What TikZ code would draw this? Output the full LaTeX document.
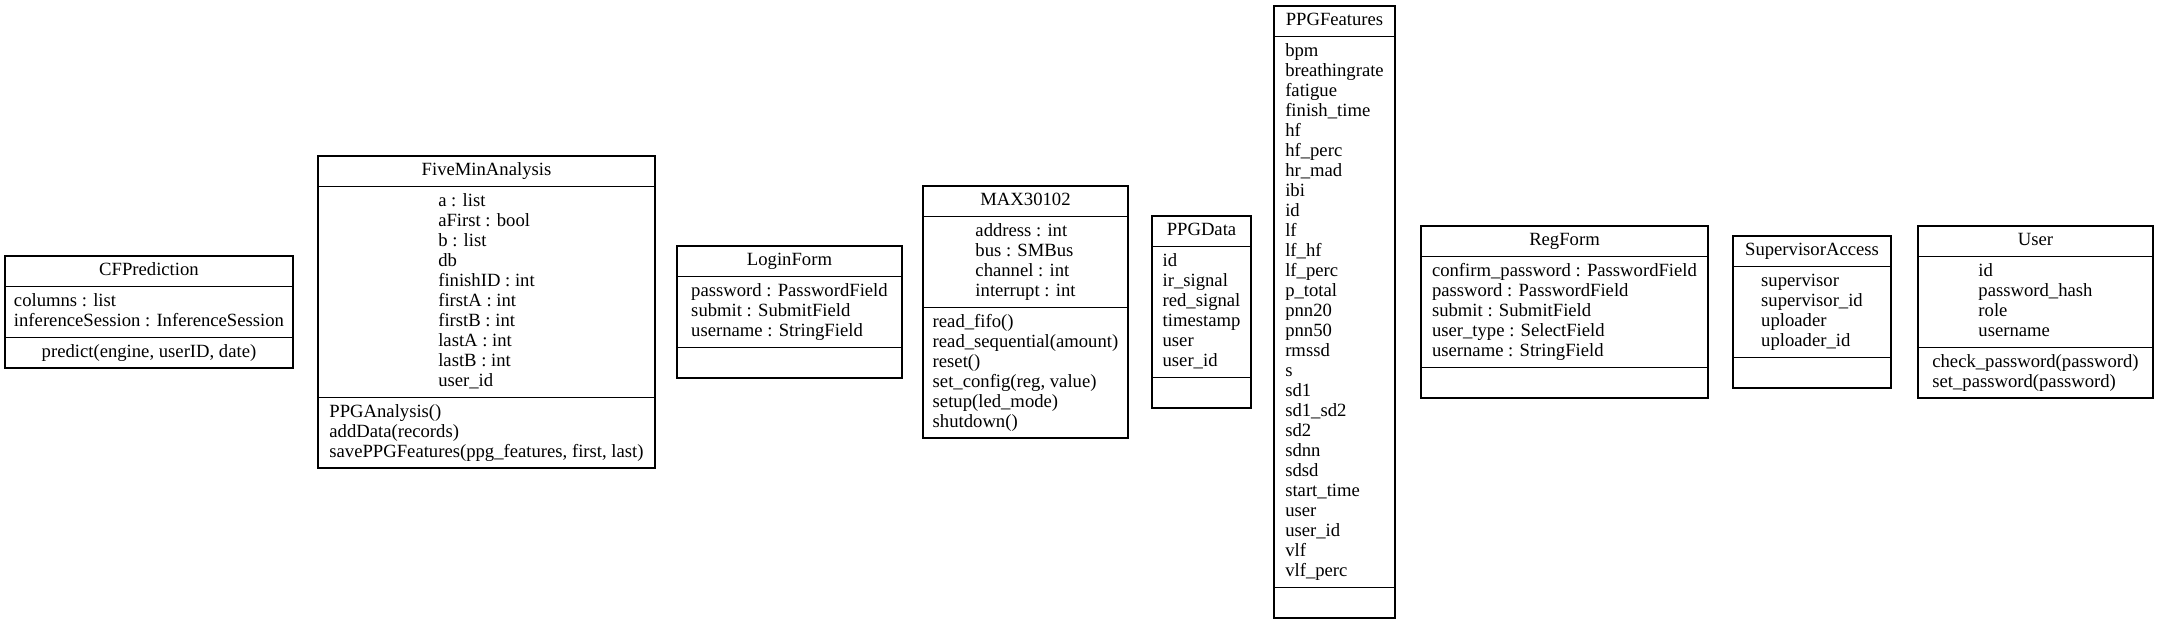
\documentclass[tikz,border=0pt]{standalone}
\usepackage{fontspec}
\setmainfont{Liberation Serif}
\newcommand\myst{\rule[-4pt]{0pt}{15pt}}
\newcommand\nl{\\\myst}
\tikzset{
  classbox/.style={draw=black, line width=0.9pt, inner sep=0pt, outer sep=0pt, fill=none},
  sepline/.style={draw=black, line width=0.9pt},
  uctext/.style={inner sep=0pt, outer sep=0pt, align=left, font=\fontsize{14}{15}\selectfont}
}
\newcommand\umlclass[8]{%
  \pgfmathsetmacro\ucH{(1+#4+#5)*20+32}%
  \pgfmathsetmacro\ucT{312-\ucH/2}%
  \pgfmathsetmacro\ucSa{\ucT+30.667}%
  \pgfmathsetmacro\ucSb{\ucSa+#4*20+10.667}%
  \pgfmathsetmacro\ucB{312+\ucH/2}%
  \pgfmathsetmacro\ucX{(#2+#3)/2}%
  \pgfmathsetmacro\ucW{(#3-#2)*0.75}%
  \pgfmathsetmacro\ucHp{\ucH*0.75}%
  \node[classbox, minimum width=\ucW pt, minimum height=\ucHp pt] (#1) at (\ucX,312) {};
  \draw[sepline] (#1.west |- 0,\ucSa) -- (#1.east |- 0,\ucSa);
  \draw[sepline] (#1.west |- 0,\ucSb) -- (#1.east |- 0,\ucSb);
  \node[uctext] (#1-t) at (\ucX,{(\ucT+\ucSa)/2}) {\myst #6};
  \node[uctext] (#1-a) at (\ucX,{(\ucSa+\ucSb)/2}) {\myst #7};
  \node[uctext] (#1-m) at (\ucX,{(\ucSb+\ucB)/2}) {\myst #8};
}
\begin{document}
\begin{tikzpicture}[x=0.75pt,y=-0.75pt]
\useasboundingbox (0,0) rectangle (2157,624);
\umlclass{cf}{5}{293}{2}{1}{CFPrediction}
  {columns : list\nl inferenceSession : InferenceSession}
  {predict(engine, userID, date)}
\umlclass{five}{318}{655}{10}{3}{FiveMinAnalysis}
  {a : list\nl aFirst : bool\nl b : list\nl db\nl finishID : int\nl firstA : int\nl firstB : int\nl lastA : int\nl lastB : int\nl user\_id}
  {PPGAnalysis()\nl addData(records)\nl savePPGFeatures(ppg\_features, first, last)}
\umlclass{login}{677}{902}{3}{1}{LoginForm}
  {password : PasswordField\nl submit : SubmitField\nl username : StringField}
  {}
\umlclass{max}{923}{1128}{4}{6}{MAX30102}
  {address : int\nl bus : SMBus\nl channel : int\nl interrupt : int}
  {read\_fifo()\nl read\_sequential(amount)\nl reset()\nl set\_config(reg, value)\nl setup(led\_mode)\nl shutdown()}
\umlclass{data}{1152}{1251}{6}{1}{PPGData}
  {id\nl ir\_signal\nl red\_signal\nl timestamp\nl user\nl user\_id}
  {}
\umlclass{feat}{1274}{1395}{27}{1}{PPGFeatures}
  {bpm\nl breathingrate\nl fatigue\nl finish\_time\nl hf\nl hf\_perc\nl hr\_mad\nl ibi\nl id\nl lf\nl lf\_hf\nl lf\_perc\nl p\_total\nl pnn20\nl pnn50\nl rmssd\nl s\nl sd1\nl sd1\_sd2\nl sd2\nl sdnn\nl sdsd\nl start\_time\nl user\nl user\_id\nl vlf\nl vlf\_perc}
  {}
\umlclass{reg}{1421}{1708}{5}{1}{RegForm}
  {confirm\_password : PasswordField\nl password : PasswordField\nl submit : SubmitField\nl user\_type : SelectField\nl username : StringField}
  {}
\umlclass{sup}{1733}{1891}{4}{1}{SupervisorAccess}
  {supervisor\nl supervisor\_id\nl uploader\nl uploader\_id}
  {}
\umlclass{user}{1918}{2153}{4}{2}{User}
  {id\nl password\_hash\nl role\nl username}
  {check\_password(password)\nl set\_password(password)}
\end{tikzpicture}
\end{document}
